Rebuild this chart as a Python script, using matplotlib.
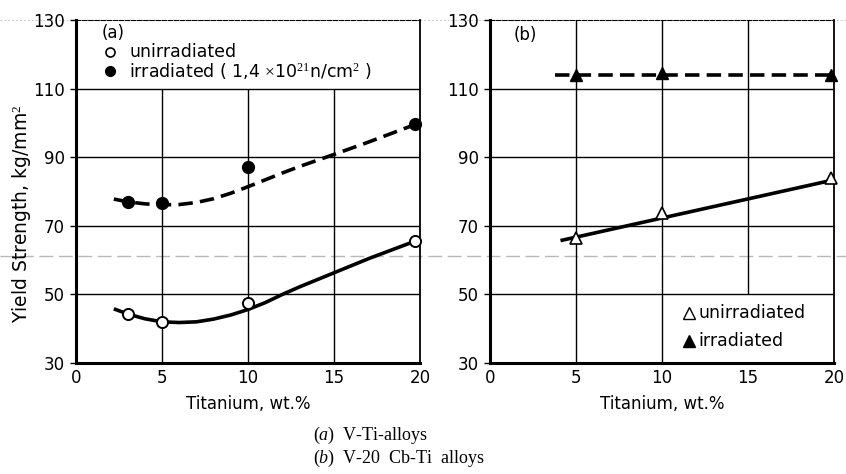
import matplotlib
matplotlib.use("Agg")
import matplotlib.pyplot as plt
from matplotlib.lines import Line2D

plt.rcParams['font.family'] = ['DejaVu Sans']
plt.rcParams['mathtext.fontset'] = 'custom'
plt.rcParams['mathtext.it'] = 'Liberation Serif:italic'
plt.rcParams['mathtext.rm'] = 'Liberation Serif'

# ---- data: (a) V-Ti alloys ----
a_unirr_x = [3, 5, 10, 19.7]
a_unirr_y = [44.3, 42.0, 47.6, 65.6]
a_irr_x = [3, 5, 10, 19.7]
a_irr_y = [77.0, 76.6, 87.0, 99.6]
a_unirr_curve_x = [2.2, 3, 4, 5, 6, 7, 8, 9, 10, 11, 12, 13, 15, 17, 19.7]
a_unirr_curve_y = [45.8, 44.3, 42.9, 42.0, 41.8, 42.0, 42.8, 44.0, 45.6, 47.6, 50.0, 52.2, 56.3, 60.4, 65.5]
a_irr_curve_x = [2.2, 3, 4, 5, 6, 7, 8, 9, 10, 12, 13, 15, 17, 19.7]
a_irr_curve_y = [77.8, 77.0, 76.4, 76.1, 76.2, 76.8, 77.9, 79.5, 81.4, 85.4, 87.3, 90.8, 94.4, 99.5]

# ---- data: (b) V-20 Cb-Ti alloys ----
b_unirr_x = [5, 10, 19.8]
b_unirr_y = [66.5, 73.6, 83.8]
b_irr_x = [5, 10, 19.8]
b_irr_y = [114.0, 114.6, 114.0]
b_unirr_line_x = [4.2, 19.9]
b_unirr_line_y = [65.8, 83.3]
b_irr_line_x = [3.8, 20]
b_irr_line_y = [114.0, 114.0]

xticks = [0, 5, 10, 15, 20]
yticks = [30, 50, 70, 90, 110, 130]

W, H = 846, 474
fig = plt.figure(figsize=(W / 100, H / 100), dpi=100)

def px_ax(l, r, t, b):
    return fig.add_axes([l / W, 1 - b / H, (r - l) / W, (b - t) / H])

axA = px_ax(76, 420, 20, 363)
axB = px_ax(490, 834, 20, 363)

for ax in (axA, axB):
    ax.patch.set_alpha(0)
    ax.set_xlim(0, 20)
    ax.set_ylim(30, 130)
    ax.set_xticks(xticks)
    ax.set_yticks(yticks)
    ax.set_xticklabels([str(v) for v in xticks], fontsize=12)
    ax.set_yticklabels([str(v) for v in yticks], fontsize=12)
    ax.tick_params(axis='both', length=0, pad=4)
    ax.tick_params(axis='y', which='major', length=4, width=1, direction='out')
    ax.spines['left'].set_linewidth(2.2)
    ax.spines['bottom'].set_linewidth(2.2)
    ax.spines['right'].set_linewidth(1.3)
    ax.spines['top'].set_linewidth(0.8)
    ax.spines['top'].set_linestyle((0, (4, 1.5)))
    ax.set_xlabel('Titanium, wt.%', fontsize=12, labelpad=6)
    for yv in [50, 70, 90, 110]:
        ax.hlines(yv, 0, 20, color='black', lw=1.0, zorder=1)

# grid verticals
axA.vlines([5, 10, 15], 30, 110, color='black', lw=1.0, zorder=1)
axB.vlines([5, 10], 30, 130, color='black', lw=1.0, zorder=1)
axB.vlines([15], 50, 130, color='black', lw=1.0, zorder=1)

fig.text(22 / W, 1 - 214 / H, 'Yield Strength, kg/mm$^2$', fontsize=13.5,
         rotation=90, va='center', ha='center')

# (a) curves and points
axA.plot(a_unirr_curve_x, a_unirr_curve_y, color='black', lw=2.6, zorder=3,
         solid_capstyle='butt')
axA.plot(a_irr_curve_x, a_irr_curve_y, color='black', lw=2.6, zorder=3,
         dashes=(4, 2))
axA.plot(a_unirr_x, a_unirr_y, 'o', ms=8, mfc='white', mec='black', mew=1.4,
         zorder=4, clip_on=False)
axA.plot(a_irr_x, a_irr_y, 'o', ms=8.5, mfc='black', mec='black', zorder=4,
         clip_on=False)

axA.text(1.5, 126.3, '(a)', fontsize=12, va='center', ha='left')
axA.plot([2.0], [120.8], 'o', ms=6.5, mfc='white', mec='black', mew=1.2, clip_on=False)
axA.text(3.1, 120.8, 'unirradiated', fontsize=12.5, va='center', ha='left')
axA.plot([2.0], [115.0], 'o', ms=7, mfc='black', mec='black', clip_on=False)
axA.text(3.1, 115.0, 'irradiated ( 1,4 $\\times$10$^{21}$n/cm$^2$ )', fontsize=12.5,
         va='center', ha='left')

# (b) lines and points
axB.plot(b_unirr_line_x, b_unirr_line_y, color='black', lw=2.6, zorder=3)
axB.plot(b_irr_line_x, b_irr_line_y, color='black', lw=2.6, zorder=3,
         dashes=(4, 2))
axB.plot(b_unirr_x, b_unirr_y, '^', ms=9, mfc='white', mec='black', mew=1.2,
         zorder=4, clip_on=False)
axB.plot(b_irr_x, b_irr_y, '^', ms=9, mfc='black', mec='black', zorder=4,
         clip_on=False)

axB.text(1.4, 125.5, '(b)', fontsize=12, va='center', ha='left')
axB.plot([11.55], [44.6], '^', ms=8, mfc='white', mec='black', mew=1.0, clip_on=False)
axB.text(12.1, 44.6, 'unirradiated', fontsize=12.5, va='center', ha='left')
axB.plot([11.55], [36.3], '^', ms=8, mfc='black', mec='black', clip_on=False)
axB.text(12.1, 36.3, 'irradiated', fontsize=12.5, va='center', ha='left')

# scan artifact lines across the figure
fig.add_artist(Line2D([0, 1], [1 - 255.5 / H, 1 - 255.5 / H], transform=fig.transFigure,
                      color='#b8b8b8', lw=1.0, dashes=(10, 4), zorder=0))
fig.add_artist(Line2D([0, 1], [1 - 20 / H, 1 - 20 / H], transform=fig.transFigure,
                      color='#c8c8c8', lw=0.7, dashes=(2, 2), zorder=0))

# caption
fig.text(313 / W, 1 - 435 / H, '($\\mathit{a}$)  V-Ti-alloys', fontsize=13,
         family='Liberation Serif', va='center', ha='left')
fig.text(313 / W, 1 - 458 / H, '($\\mathit{b}$)  V-20  Cb-Ti  alloys', fontsize=13,
         family='Liberation Serif', va='center', ha='left')

fig.savefig('out.png', dpi=100)
